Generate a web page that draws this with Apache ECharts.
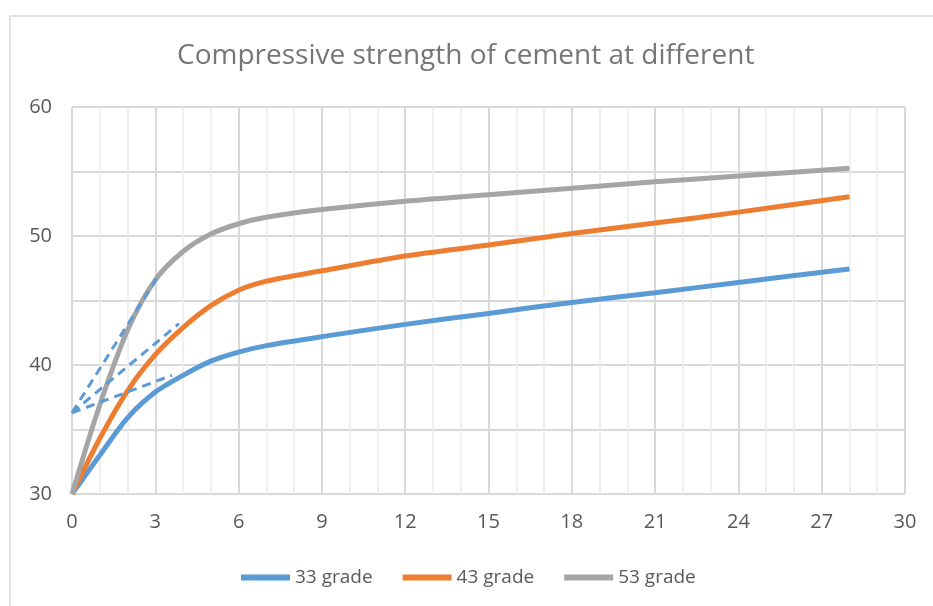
<!DOCTYPE html>
<html>
<head>
<meta charset="utf-8">
<script src="https://cdn.jsdelivr.net/npm/echarts@6/dist/echarts.min.js"></script>
<style>
  html, body { margin: 0; padding: 0; background: #fff; }
  #chart { width: 933px; height: 606px; }
</style>
</head>
<body>
<div id="chart"></div>
<script>
// days of curing and strength values (MPa)
var days = [0, 1, 2, 3, 4, 5, 6, 7, 9, 12, 15, 18, 21, 24, 28];
var grade33 = [30, 33.0, 35.9, 37.9, 39.2, 40.3, 41.0, 41.5, 42.2, 43.15, 44.0, 44.85, 45.6, 46.4, 47.45];
var grade43 = [30, 34.3, 38.0, 40.8, 42.9, 44.6, 45.8, 46.5, 47.3, 48.45, 49.3, 50.2, 51.0, 51.85, 53.05];
var grade53 = [30, 36.9, 42.7, 46.6, 48.8, 50.15, 50.95, 51.45, 52.05, 52.7, 53.2, 53.7, 54.2, 54.65, 55.25];

// dashed tangent lines drawn over the early part
var tangentStart = [0, 36.3];
var tangentEnds = [[3.05, 46.7], [3.85, 43.2], [3.6, 39.2]];

var seriesNames = ['33 grade', '43 grade', '53 grade'];
var seriesColors = ['#5B9BD5', '#ED7D31', '#A5A5A5'];

function pairs(xs, ys) {
    var out = [];
    for (var i = 0; i < xs.length; i++) out.push([xs[i], ys[i]]);
    return out;
}

var myChart = echarts.init(document.getElementById('chart'));

var values = [grade33, grade43, grade53];
var series = [];
for (var i = 0; i < values.length; i++) {
    series.push({
        name: seriesNames[i],
        type: 'line',
        smooth: 0.3,
        showSymbol: false,
        data: pairs(days, values[i]),
        lineStyle: { color: seriesColors[i], width: 5 },
        itemStyle: { color: seriesColors[i] }
    });
}
for (var j = 0; j < tangentEnds.length; j++) {
    series.push({
        name: 'tangent' + j,
        type: 'line',
        showSymbol: false,
        data: [tangentStart, tangentEnds[j]],
        lineStyle: { color: '#5B9BD5', width: 3, type: [9, 6] },
        z: 3
    });
}

option = {
    animation: false,
    textStyle: { fontFamily: 'Open Sans' },
    title: {
        text: 'Compressive strength of cement at different',
        left: 172,
        top: 37,
        textStyle: { fontSize: 28, fontWeight: 'normal', color: '#767676', fontFamily: 'Open Sans' }
    },
    legend: {
        data: seriesNames,
        left: 236,
        top: 563,
        icon: 'rect',
        itemWidth: 49,
        itemHeight: 6,
        itemGap: 30,
        textStyle: { fontSize: 19, color: '#595959' }
    },
    grid: { left: 72, right: 28, top: 107, bottom: 112 },
    graphic: [{
        type: 'rect',
        shape: { x: 10, y: 16, width: 940, height: 610 },
        style: { fill: 'none', stroke: '#d9d9d9', lineWidth: 1.5 },
        silent: true
    }],
    xAxis: {
        type: 'value',
        min: 0, max: 30, interval: 3,
        axisLine: { show: false },
        axisTick: { show: false },
        axisLabel: { fontSize: 20, color: '#595959', margin: 18 },
        splitLine: { show: true, lineStyle: { color: '#d9d9d9', width: 2 } },
        minorTick: { show: false, splitNumber: 3 },
        minorSplitLine: { show: true, lineStyle: { color: '#ececec', width: 1.5 } }
    },
    yAxis: {
        type: 'value',
        min: 30, max: 60, interval: 5,
        axisLine: { show: false },
        axisTick: { show: false },
        axisLabel: {
            fontSize: 20, color: '#595959', margin: 20,
            formatter: function (v) { return v % 10 === 0 ? String(v) : ''; }
        },
        splitLine: { show: true, lineStyle: { color: '#d9d9d9', width: 2 } }
    },
    series: series
};

myChart.setOption(option);
</script>
</body>
</html>
